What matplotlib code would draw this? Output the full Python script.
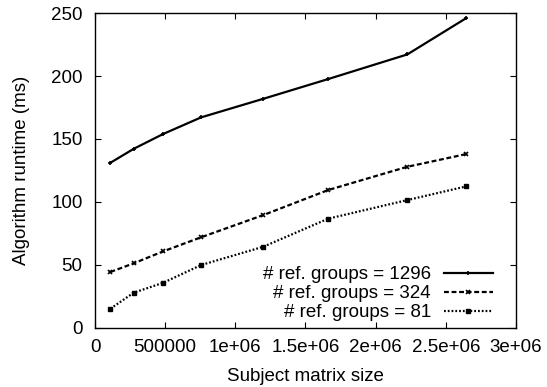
"""
Runtime vs subject matrix size for three ref. group counts
"""
import matplotlib
matplotlib.use('Agg')
import matplotlib.pyplot as plt

# matrix sizes (x) and runtimes in ms (y)
sizes = [110000, 276000, 486000, 756000, 1200000, 1662000, 2226000, 2646000]
rt_1296 = [131.1, 142.2, 154.0, 167.2, 182.0, 197.7, 217.3, 246.2]
rt_324 = [44.2, 51.1, 60.6, 71.8, 89.5, 109.4, 127.9, 138.0]
rt_81 = [15.0, 27.7, 35.6, 49.7, 64.3, 86.6, 101.4, 112.3]

labels = ['# ref. groups = 1296', '# ref. groups = 324', '# ref. groups = 81']
xticks = [0, 500000, 1000000, 1500000, 2000000, 2500000, 3000000]
xticklabels = ['0', '500000', '1e+06', '1.5e+06', '2e+06', '2.5e+06', '3e+06']
yticks = [0, 50, 100, 150, 200, 250]

FS = 13.5
plt.rcParams['font.family'] = ['Liberation Sans', 'DejaVu Sans']
plt.rcParams['font.size'] = FS

fig = plt.figure(figsize=(5.47, 3.87), dpi=100)
ax = fig.add_axes([0.1737, 0.1537, 0.7695, 0.8119])

ax.plot(sizes, rt_1296, color='black', linestyle='-', linewidth=1.6,
        marker='+', markersize=3.5, markeredgewidth=1.2, label=labels[0])
ax.plot(sizes, rt_324, color='black', linestyle=(0, (2.2, 1.2)), linewidth=1.6,
        marker='x', markersize=3.5, markeredgewidth=1.2, label=labels[1])
ax.plot(sizes, rt_81, color='black', linestyle=(0, (0.8, 0.9)), linewidth=1.6,
        marker='s', markersize=3.2, label=labels[2])

ax.set_xlim(0, 3000000)
ax.set_ylim(0, 250)
ax.set_xticks(xticks)
ax.set_xticklabels(xticklabels)
ax.set_yticks(yticks)
ax.tick_params(direction='in', length=4, width=0.8, top=True, right=True,
               labelsize=FS, color='black')
ax.tick_params(axis='x', pad=8)
ax.tick_params(axis='y', pad=9)
for sp in ax.spines.values():
    sp.set_linewidth(1.0)

ax.set_xlabel('Subject matrix size', fontsize=FS, labelpad=9)
ax.set_ylabel('Algorithm runtime (ms)', fontsize=FS, labelpad=15)

ax.legend(loc='lower right', bbox_to_anchor=(0.945, 0.02), markerfirst=False,
          frameon=False, fontsize=FS, handlelength=2.6, handletextpad=0.7,
          labelspacing=0.1, borderpad=0, borderaxespad=0)

fig.savefig('out.png', dpi=100)
